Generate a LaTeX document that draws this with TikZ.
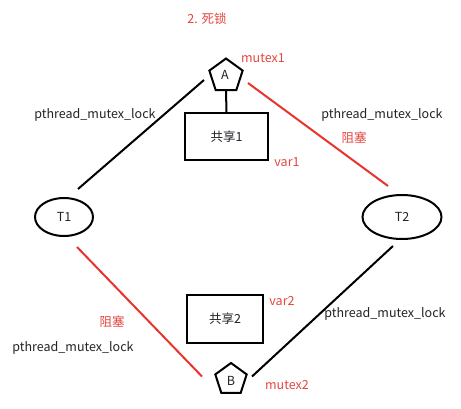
\documentclass[tikz,border=0pt]{standalone}
\usepackage{fontspec}
\setmainfont{Noto Sans CJK SC}
\usetikzlibrary{shapes.geometric,calc}
\definecolor{lnred}{RGB}{232,52,44}
\definecolor{txred}{RGB}{228,70,64}
\definecolor{txdark}{RGB}{34,34,40}
\begin{document}
\begin{tikzpicture}[x=1pt,y=-1pt,
  every node/.style={font=\fontsize{12.5}{14}\selectfont, text=txdark, inner sep=0pt},
  redtxt/.style={text=txred},
  penta/.style={draw=black, line width=2pt, regular polygon, regular polygon sides=5, minimum size=#1},
  thread/.style={draw=black, line width=2pt, ellipse, minimum width=#1},
  sharebox/.style={draw=black, line width=2pt, rectangle},
  blk/.style={draw=black, line width=2pt},
  rdl/.style={draw=lnred, line width=2pt}]
\useasboundingbox (0,0) rectangle (461,408);
\fill[white] (0,0) rectangle (461,408);

\node[redtxt] (title) at (207,19) {2. 死锁};

\node[penta=35pt] (A) at (226,76) {};
\node (Alab) at (225,75) {A};
\node[redtxt] (m1) at (263,58) {mutex1};

\node[sharebox, minimum width=83pt, minimum height=47pt] (box1) at (226.5,136.5) {共享1};
\node[redtxt] (v1) at (287,162) {var1};

\node[thread=58pt, minimum height=38pt] (T1) at (64,217) {T1};
\node[thread=79pt, minimum height=44pt] (T2) at (402,217) {T2};

\node[sharebox, minimum width=76pt, minimum height=48pt] (box2) at (225,319) {共享2};
\node[redtxt] (v2) at (282,301) {var2};

\node[penta=33pt] (B) at (231,379.5) {};
\node (Blab) at (231,381) {B};
\node[redtxt] (m2) at (287,385) {mutex2};

\node (p1) at (95,115) {pthread\_mutex\_lock};
\node (p2) at (382,115) {pthread\_mutex\_lock};
\node (p3) at (385,314) {pthread\_mutex\_lock};
\node (p4) at (73,348) {pthread\_mutex\_lock};
\node[redtxt] (z1) at (354,138) {阻塞};
\node[redtxt] (z2) at (112,322) {阻塞};

\draw[blk] (A.south) -- (box1.north);
\draw[blk] ($(T1)+(14,-28)$) -- ($(A)+(-22,4)$);
\draw[rdl] ($(A)+(22,7)$) -- ($(T2)+(-14,-31)$);
\draw[rdl] ($(T1)+(13,30)$) -- ($(B)+(-29,-3)$);
\draw[blk] ($(B)+(21,-3)$) -- ($(T2)+(-9,29)$);
\end{tikzpicture}
\end{document}
